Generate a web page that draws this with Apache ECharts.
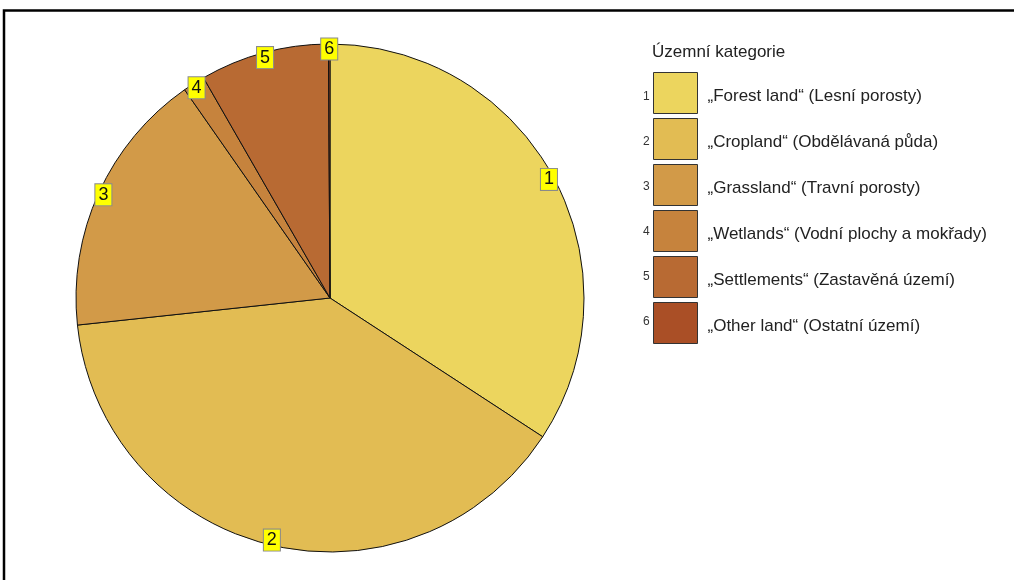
<!DOCTYPE html>
<html>
<head>
<meta charset="utf-8">
<script src="https://cdn.jsdelivr.net/npm/echarts@6/dist/echarts.min.js"></script>
<style>
  html, body { margin: 0; padding: 0; background: #fff; }
  #chart { width: 1014px; height: 580px; }
</style>
</head>
<body>
<div id="chart"></div>
<script>
// Land-use categories (share of territory, %)
const categories = [
  '„Forest land“ (Lesní porosty)',
  '„Cropland“ (Obdělávaná půda)',
  '„Grassland“ (Travní porosty)',
  '„Wetlands“ (Vodní plochy a mokřady)',
  '„Settlements“ (Zastavěná území)',
  '„Other land“ (Ostatní území)'
];
const shares = [34.2, 39.1, 17.0, 1.4, 8.2, 0.1];
const sliceNumbers = ['1', '2', '3', '4', '5', '6'];
const legendTitle = 'Územní kategorie';
const palette = ['#ecd55e', '#e2bc53', '#d29a48', '#c6833d', '#b86a33', '#aa4f26'];

const FONT = 'Arial, "Liberation Sans", sans-serif';
const CENTER = [330, 298];
const R = 254;

const pieData = categories.map((name, i) => ({
  name: name,
  value: shares[i],
  itemStyle: { color: palette[i] }
}));

// thin ring along the rim that only carries the numbered badges
const badgeData = categories.map((name, i) => ({
  name: name,
  value: shares[i],
  number: sliceNumbers[i]
}));

// legend row geometry
const LEG_LEFT = 653, LEG_TOP = 72, LEG_H = 41, LEG_GAP = 4;

const chart = echarts.init(document.getElementById('chart'), null, { renderer: 'canvas' });

chart.setOption({
  backgroundColor: '#ffffff',
  animation: false,
  title: {
    text: legendTitle,
    left: 652,
    top: 44,
    padding: 0,
    textStyle: { fontFamily: FONT, fontSize: 17, fontWeight: 'normal', color: '#222' }
  },
  legend: {
    orient: 'vertical',
    left: LEG_LEFT,
    top: LEG_TOP,
    padding: 0,
    itemWidth: 44,
    itemHeight: LEG_H,
    itemGap: LEG_GAP,
    icon: 'rect',
    selectedMode: false,
    data: categories,
    itemStyle: { borderColor: '#333', borderWidth: 1 },
    formatter: name => '{t|' + name + '}',
    textStyle: {
      fontFamily: FONT, fontSize: 17, color: '#222',
      rich: { t: { fontFamily: FONT, fontSize: 17, color: '#222', padding: [7, 0, 0, 5] } }
    }
  },
  graphic: [
    {
      type: 'polyline',
      silent: true,
      shape: { points: [[4, 580], [4, 10.5], [1014, 10.5]] },
      style: { stroke: '#000', lineWidth: 2.5, fill: null }
    }
  ].concat(sliceNumbers.map((t, i) => ({
    type: 'text',
    silent: true,
    left: 643,
    top: LEG_TOP + i * (LEG_H + LEG_GAP) + LEG_H / 2 - 2,
    style: { text: t, fontFamily: FONT, fontSize: 12, fill: '#333' }
  }))),
  series: [
    {
      type: 'pie',
      center: CENTER,
      radius: [0, R],
      startAngle: 90,
      clockwise: true,
      avoidLabelOverlap: false,
      silent: true,
      label: { show: false },
      labelLine: { show: false },
      itemStyle: { borderColor: '#111', borderWidth: 1 },
      data: pieData
    },
    {
      type: 'pie',
      center: CENTER,
      radius: [R - 16, R],
      startAngle: 90,
      clockwise: true,
      avoidLabelOverlap: false,
      silent: true,
      itemStyle: { color: 'rgba(0,0,0,0)', borderWidth: 0 },
      labelLine: { show: false },
      label: {
        show: true,
        position: 'inside',
        formatter: p => p.data.number,
        fontFamily: FONT,
        fontSize: 18,
        color: '#111',
        backgroundColor: '#ffff00',
        borderColor: '#8a8a8a',
        borderWidth: 1,
        padding: [2, 3, 1, 3]
      },
      data: badgeData
    }
  ]
});
</script>
</body>
</html>
